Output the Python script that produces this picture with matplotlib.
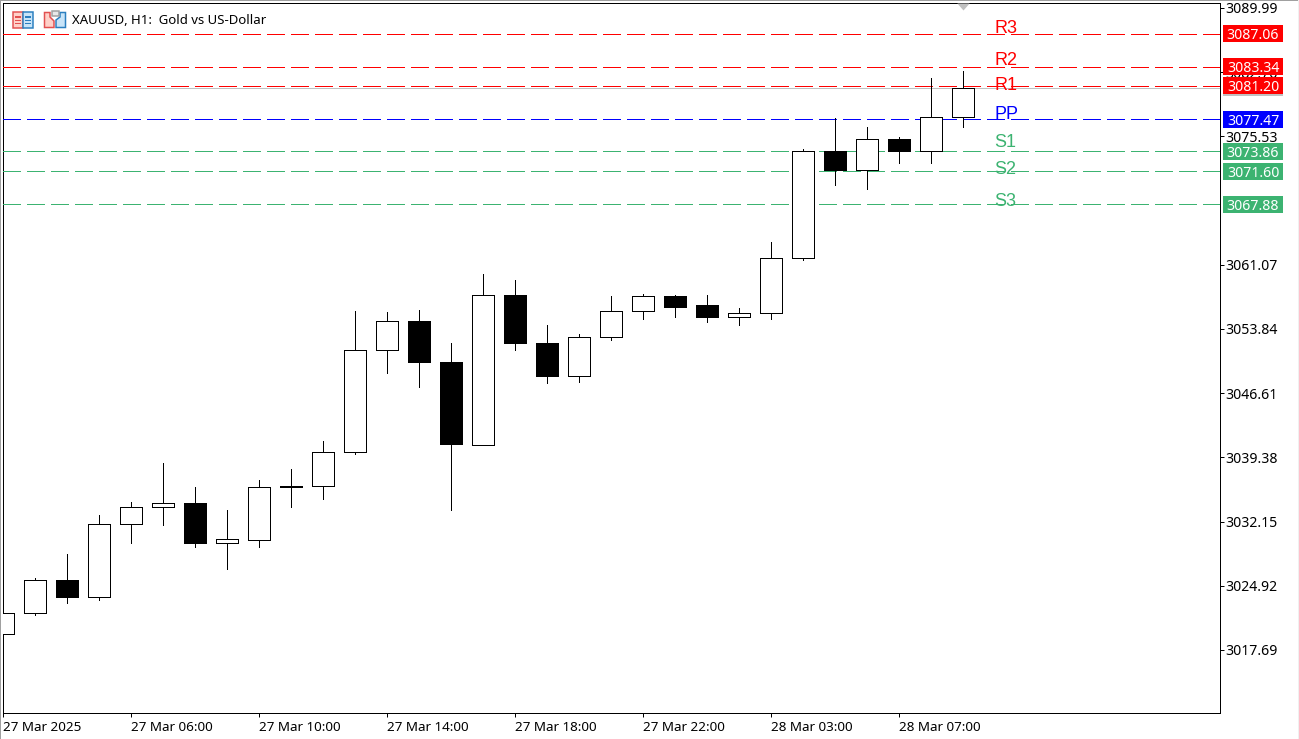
import matplotlib
matplotlib.use("Agg")
import matplotlib.pyplot as plt
from matplotlib.patches import Rectangle, Polygon
from matplotlib.ticker import FixedLocator, FixedFormatter

plt.rcParams['lines.scale_dashes'] = False
plt.rcParams['font.family'] = ['Noto Sans', 'DejaVu Sans']

W, H, DPI = 1299, 739, 100
PX = 72 / DPI

# ---- data ----
opens = [3019.53, 3021.86, 3025.58, 3023.62, 3031.84, 3033.75, 3034.25, 3029.70,
         3030.08, 3036.08, 3036.16, 3039.99, 3051.48, 3054.74, 3050.13, 3040.78,
         3057.67, 3052.27, 3048.55, 3052.94, 3055.83, 3057.56, 3056.55, 3055.20,
         3055.65, 3061.84, 3073.84, 3071.75, 3075.24, 3073.89, 3077.72]
highs = [3021.90, 3025.80, 3028.54, 3032.93, 3034.39, 3038.79, 3036.08, 3033.49,
         3036.87, 3038.11, 3041.26, 3055.90, 3055.79, 3056.02, 3052.30, 3060.07,
         3059.40, 3054.33, 3053.31, 3057.59, 3057.82, 3057.71, 3057.71, 3056.24,
         3063.67, 3074.15, 3077.60, 3076.59, 3075.46, 3082.11, 3082.93]
lows = [3019.53, 3021.67, 3022.94, 3023.36, 3029.70, 3031.73, 3029.25, 3026.77,
        3029.25, 3033.75, 3034.65, 3039.80, 3048.84, 3047.27, 3033.41, 3040.78,
        3051.43, 3047.72, 3047.83, 3052.64, 3054.92, 3055.15, 3054.59, 3054.25,
        3054.92, 3061.65, 3070.01, 3069.56, 3072.49, 3072.49, 3076.55]
closes = [3021.90, 3025.58, 3023.62, 3031.88, 3033.80, 3034.25, 3029.70, 3030.19,
          3036.05, 3036.15, 3039.99, 3051.48, 3054.74, 3050.08, 3040.85, 3057.67,
          3052.22, 3048.50, 3052.94, 3055.87, 3057.56, 3056.28, 3055.15, 3055.65,
          3061.84, 3073.89, 3071.70, 3075.24, 3073.84, 3077.72, 3080.98]

level_names = ['R3', 'R2', 'R1', 'PP', 'S1', 'S2', 'S3']
level_values = [3087.06, 3083.34, 3081.20, 3077.47, 3073.86, 3071.60, 3067.88]
level_colors = ['#FF0000', '#FF0000', '#FF0000', '#0000FF', '#3CB371', '#3CB371', '#3CB371']
level_name_shift_px = [1.3, 1.6, -3.7, 0.3, 4.3, -2.7, -1.7]

price_ticks = [3089.99, 3082.76, 3075.53, 3061.07, 3053.84, 3046.61, 3039.38,
               3032.15, 3024.92, 3017.69]
price_tick_labels = ['3089.99', '3082.76', '3075.53', '3061.07', '3053.84', '3046.61',
                     '3039.38', '3032.15', '3024.92', '3017.69']
time_ticks = [0, 4, 8, 12, 16, 20, 24, 28]
time_tick_labels = ['27 Mar 2025', '27 Mar 06:00', '27 Mar 10:00', '27 Mar 14:00',
                    '27 Mar 18:00', '27 Mar 22:00', '28 Mar 03:00', '28 Mar 07:00']
title = 'XAUUSD, H1:  Gold vs US-Dollar'
last_price = 3080.98

# ---- layout ----
fig = plt.figure(figsize=(W / DPI, H / DPI), dpi=DPI, facecolor='white')
L, R, T, B = 2.6, 1219.6, 2.6, 712.6
ax = fig.add_axes([L / W, 1 - B / H, (R - L) / W, (B - T) / H])
px_per_bar = 32.0
px_per_unit = 8.88
ax.set_xlim(0, (R - L) / px_per_bar)
top_price = 3089.99 + (7.9 - T) / px_per_unit
ax.set_ylim(top_price - (B - T) / px_per_unit, top_price)
for s in ax.spines.values():
    s.set_linewidth(1 * PX)
    s.set_color('black')

# ---- levels ----
ytrans = ax.get_yaxis_transform()
for name, v, c, shift in zip(level_names, level_values, level_colors, level_name_shift_px):
    ax.annotate(name, (31, v), xytext=(0, shift * PX), textcoords='offset points',
                color=c, fontsize=18 * PX, family='Liberation Sans',
                ha='left', va='baseline', zorder=2)
    ax.plot([0, 1], [v, v], transform=ytrans, color=c, lw=1 * PX,
            dashes=(18 * PX, 6 * PX), antialiased=False, zorder=3)
ax.plot([0, 1], [last_price, last_price], transform=ytrans, color='#C0C0C0',
        lw=1 * PX, antialiased=False, zorder=1)

# ---- candles ----
body_w = 22 / px_per_bar
for i, (o, h, l, c) in enumerate(zip(opens, highs, lows, closes)):
    ax.plot([i, i], [l, h], color='black', lw=1 * PX, antialiased=False, zorder=4,
            solid_capstyle='butt')
    ax.bar(i, abs(c - o), bottom=min(o, c), width=body_w,
           facecolor='white' if c >= o else 'black', edgecolor='black',
           linewidth=1 * PX, antialiased=False, zorder=5)

# ---- axes ticks ----
ax.yaxis.tick_right()
ax.yaxis.set_major_locator(FixedLocator(price_ticks))
ax.yaxis.set_major_formatter(FixedFormatter(price_tick_labels))
ax.xaxis.set_major_locator(FixedLocator(time_ticks))
ax.xaxis.set_major_formatter(FixedFormatter(time_tick_labels))
ax.tick_params(axis='y', length=4 * PX, width=1 * PX, pad=1.5, labelsize=14.1 * PX)
ax.tick_params(axis='x', length=4 * PX, width=1 * PX, pad=3, labelsize=13.4 * PX)
for t in ax.get_xticklabels():
    t.set_ha('left')

# ---- price tags ----
tag_x0 = 3.4 / (R - L)
tag_w = 60 / (R - L)
tag_h = 17 / px_per_unit
def tag(v, fc, label=None, tc='white', z=10):
    ax.add_patch(Rectangle((1 + tag_x0, v - tag_h / 2), tag_w, tag_h, transform=ytrans,
                           facecolor=fc, edgecolor='none', clip_on=False, zorder=z,
                           antialiased=False))
    if label:
        ax.text(1 + tag_x0 + tag_w / 2, v, label, transform=ytrans, color=tc, ha='center',
                va='center_baseline', fontsize=14.1 * PX, zorder=z + 0.1, clip_on=False)

tag(last_price, '#C0C0C0', z=10)
for i, (v, c) in enumerate(zip(level_values, level_colors)):
    tag(v, c, f'{v:.2f}', z=11 + i)

# ---- header / decoration in pixel space ----
def fx(x): return x / W
def fy(y): return 1 - y / H
fig.text(fx(71.5), fy(20.5), title, fontsize=13.2 * PX, va='center', ha='left', zorder=20)

def box(x0, y0, x1, y1, fc, ec='none', z=20, lw=1.5):
    fig.add_artist(Rectangle((fx(x0), fy(y1)), (x1 - x0) / W, (y1 - y0) / H,
                             transform=fig.transFigure, facecolor=fc, edgecolor=ec,
                             linewidth=lw * PX, zorder=z))

def poly(pts, fc, ec, z=20, lw=1.5):
    fig.add_artist(Polygon([(fx(a), fy(b)) for a, b in pts], closed=True,
                           transform=fig.transFigure, facecolor=fc, edgecolor=ec,
                           linewidth=lw * PX, zorder=z))

# outer grey frame of the window
box(0, 0, W, 1, '#A0A0A0')
box(0, 0, 1, H, '#A0A0A0')
box(W - 1, 0, W, H, '#F0F0F0')

# left icon
RED, RED_F, BLUE, BLUE_F = '#E25050', '#FFD0C8', '#2A7FC0', '#C8E4F8'
box(12.5, 12.5, 23, 27.5, RED_F, RED)
box(23, 12.5, 32.5, 27.5, BLUE_F, BLUE)
for yy in (16.5, 19.5, 23):
    box(14.5, yy, 21.5, yy + 1.2, RED, z=21, lw=0)
    box(24.5, yy, 31, yy + 1.2, BLUE, z=21, lw=0)
# right icon
poly([(44.5, 12.5), (50, 12.5), (50, 17), (54, 21), (54, 27.5), (44.5, 27.5)], RED_F, RED)
poly([(56, 27.5), (56, 20), (60, 17), (60, 12.5), (65.5, 12.5), (65.5, 27.5)], BLUE_F, BLUE)
box(51.5, 11.5, 59, 15.5, '#E8E8E8', '#A0A0A0', z=21)

# marker of the last bar at the top edge
ax.plot([len(closes) - 1], [1], transform=ax.get_xaxis_transform(), marker=[(-7, 0), (7, 0), (0, -8)],
        ms=14 * PX, mfc='#C0C0C0', mec='none', clip_on=False, zorder=6, ls='none')

fig.savefig('out.png', dpi=DPI, facecolor='white')
